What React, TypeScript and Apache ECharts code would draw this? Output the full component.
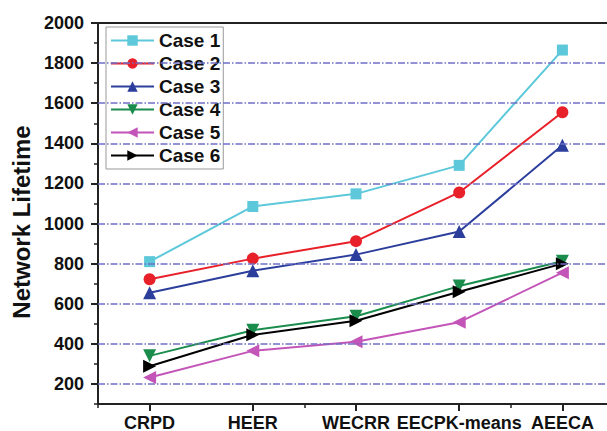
import React, { useEffect, useRef } from "react";
import * as echarts from "echarts";

const categories = ["CRPD", "HEER", "WECRR", "EECPK-means", "AEECA"];
const case1 = [810, 1085, 1148, 1290, 1865];
const case2 = [722, 825, 912, 1155, 1555];
const case3 = [655, 765, 845, 960, 1390];
const case4 = [340, 468, 538, 688, 812];
const case5 = [232, 365, 410, 508, 755];
const case6 = [288, 445, 515, 660, 800];
const yLabelValues = [200, 400, 600, 800, 1000, 1200, 1400, 1600, 1800, 2000];
const gridValues = [200, 400, 600, 800, 1000, 1200, 1400, 1600, 1800];
const yTitle = "Network Lifetime";

const FONT = "'Liberation Sans', Arial, Helvetica, sans-serif";

export default function App() {
  const ref = useRef<HTMLDivElement>(null);
  useEffect(() => {
    if (!ref.current) return;
    const chart = echarts.init(ref.current, undefined, { renderer: "svg" });
    const mk = (
      name: string,
      data: number[],
      color: string,
      symbol: string,
      size: number,
      rotate: number
    ) => ({
      name,
      type: "line",
      data,
      z: 3,
      symbol,
      symbolSize: size,
      symbolRotate: rotate,
      showSymbol: true,
      lineStyle: { color, width: 2 },
      itemStyle: { color },
    });
    chart.setOption({
      animation: false,
      backgroundColor: "#ffffff",
      grid: {
        left: 98,
        top: 23,
        width: 516,
        height: 381,
        containLabel: false,
        outerBoundsMode: "none",
        show: true,
        borderColor: "#222",
        borderWidth: 2,
      },
      xAxis: [
        {
          type: "category",
          data: categories,
          position: "bottom",
          boundaryGap: true,
          axisLine: { show: true, lineStyle: { color: "#222", width: 2 } },
          axisTick: {
            show: true,
            alignWithLabel: true,
            length: 7,
            lineStyle: { color: "#222", width: 2 },
          },
          axisLabel: {
            show: true,
            margin: 12,
            lineHeight: 14,
            color: "#111",
            fontSize: 18,
            fontWeight: "bold",
            fontFamily: FONT,
            interval: 0,
          },
          splitLine: { show: false },
        },
        {
          type: "category",
          data: categories,
          position: "bottom",
          boundaryGap: true,
          axisLine: { show: false },
          axisTick: {
            show: true,
            alignWithLabel: false,
            length: 4,
            lineStyle: { color: "#222", width: 1.5 },
          },
          axisLabel: { show: false },
          splitLine: { show: false },
        },
      ],
      yAxis: [
        {
          type: "value",
          min: 100,
          max: 2000,
          interval: 100,
          position: "left",
          axisLine: { show: true, lineStyle: { color: "#222", width: 2 } },
          axisTick: { show: true, length: 4, lineStyle: { color: "#222", width: 1.5 } },
          axisLabel: { show: false },
          splitLine: { show: false },
        },
        {
          type: "value",
          min: 100,
          max: 2000,
          interval: 100,
          position: "left",
          axisLine: { show: false },
          axisTick: {
            show: true,
            length: 7,
            customValues: yLabelValues,
            lineStyle: { color: "#222", width: 2 },
          },
          axisLabel: {
            show: true,
            customValues: yLabelValues,
            formatter: (v: number) => String(v),
            margin: 14,
            color: "#111",
            fontSize: 18,
            fontWeight: "bold",
            fontFamily: FONT,
          },
          splitLine: { show: false },
        },
      ],
      legend: {
        data: ["Case 1", "Case 2", "Case 3", "Case 4", "Case 5", "Case 6"],
        orient: "vertical",
        left: 106,
        top: 27,
        padding: [4, 3, 4, 4],
        itemWidth: 43,
        itemHeight: 13,
        itemGap: 4,
        borderColor: "#999",
        borderWidth: 1,
        backgroundColor: "#fff",
        textStyle: {
          color: "#111",
          fontSize: 19,
          fontWeight: "bold",
          fontFamily: FONT,
        },
      },
      graphic: [
        {
          type: "text",
          x: 21,
          y: 222,
          rotation: Math.PI / 2,
          style: {
            text: yTitle,
            fill: "#111",
            font: `bold 24px ${FONT}`,
            align: "center",
            verticalAlign: "middle",
          },
        },
      ],
      series: [
        {
          name: "grid",
          type: "line",
          data: [],
          z: 1,
          silent: true,
          markLine: {
            silent: true,
            symbol: "none",
            label: { show: false },
            lineStyle: { color: "#6f6fc8", width: 1.5, type: [7, 2, 1.5, 2] },
            data: gridValues.map((v) => ({ yAxis: v })),
          },
        },
        mk("Case 1", case1, "#5cc8da", "rect", 11, 0),
        mk("Case 2", case2, "#e8202a", "circle", 12, 0),
        mk("Case 3", case3, "#2c3e9c", "triangle", 13, 0),
        mk("Case 4", case4, "#1a8c4c", "triangle", 13, 180),
        mk("Case 5", case5, "#c455b8", "triangle", 13, 90),
        mk("Case 6", case6, "#000000", "triangle", 13, -90),
      ],
    });
    return () => chart.dispose();
  }, []);
  return (
    <div
      ref={ref}
      style={{ position: "fixed", left: 0, top: 0, width: 607, height: 431 }}
    />
  );
}
